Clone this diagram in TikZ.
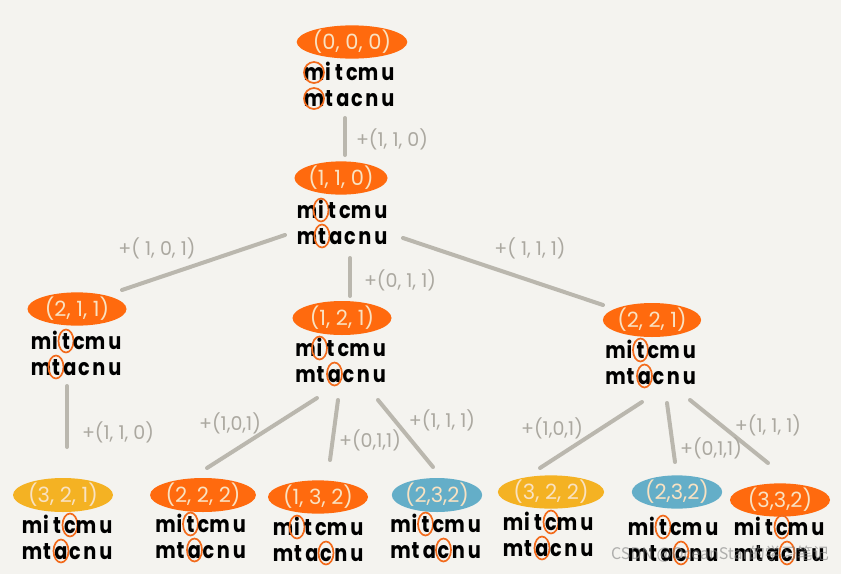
\documentclass[tikz,border=0pt]{standalone}
\usepackage{fontspec}
\setmainfont{Poppins}
\newfontfamily\hand[FakeStretch=0.84]{Poppins}
\newfontfamily\cjk{Noto Sans CJK SC}
\usetikzlibrary{shapes.geometric}
\definecolor{bg}{HTML}{F4F3EF}
\definecolor{ora}{HTML}{FF6A0E}
\definecolor{yel}{HTML}{F4B223}
\definecolor{blu}{HTML}{64AEC8}
\definecolor{cream}{HTML}{F9E2C2}
\definecolor{edgegray}{HTML}{BAB7AE}
\definecolor{lblgray}{HTML}{ABA8A0}
\definecolor{circ}{HTML}{F26A1B}
\tikzset{
 blob/.style={ellipse, inner sep=0pt, text=cream, font=\fontsize{21}{24}\selectfont},
 letter/.style={anchor=base, inner sep=0pt, font=\hand\bfseries\fontsize{23}{26}\selectfont, text=black},
 rowbox/.style={minimum width=92pt, minimum height=22pt, inner sep=0pt},
 ring/.style={draw=circ, line width=1.7pt},
 edge/.style={draw=edgegray, line width=4pt, line cap=round},
 elabel/.style={text=lblgray, font=\fontsize{19}{22}\selectfont, inner sep=0pt},
}
\newcommand{\wrow}[5]{%
 \node[rowbox] (#1) at ({#2},{#3}) {};
 \foreach \ch/\dx [count=\k from 0] in {#4} {
   \node[letter] (#1l\k) at ({#2+\dx},{#3+7}) {\ch};
   \ifnum\k=#5\relax
     \ifnum\k=0\relax
       \draw[ring] ({#2+\dx},{#3-0.5}) ellipse [x radius=10pt, y radius=10.5pt];
     \else
       \draw[ring] ({#2+\dx},{#3-1}) ellipse [x radius=7.5pt, y radius=11.5pt];
     \fi
   \fi
 }
}
\newcommand{\tnode}[9]{%
 \node[blob, #4] (#1) at ({#2},{#3}) {#5};
 \wrow{#1a}{#6}{#7}{m/-37,i/-23,t/-12,c/1,m/17,u/37}{#8}
 \wrow{#1b}{#6}{#7+26}{m/-37,t/-22,a/-8,c/6,n/21,u/37}{#9}
}
\begin{document}
\begin{tikzpicture}[x=1pt,y=-1pt]
\useasboundingbox (0,0) rectangle (841,574);
\fill[bg] (0,0) rectangle (841,574);

\tnode{n0}{352}{42}{fill=ora,minimum width=100pt,minimum height=31pt}{(0, 0, 0)}{351}{73}{0}{0}
\tnode{n1}{341}{178}{fill=ora,minimum width=93pt,minimum height=31pt}{(1, 1, 0)}{344}{211}{1}{1}
\tnode{n2}{77}{309}{fill=ora,minimum width=99pt,minimum height=32pt}{(2, 1, 1)}{78}{342}{2}{1}
\tnode{n3}{342}{318}{fill=ora,minimum width=99pt,minimum height=34pt}{(1, 2, 1)}{342.5}{349}{1}{2}
\tnode{n4}{652}{320}{fill=ora,minimum width=97pt,minimum height=34pt}{(2, 2, 1)}{652.5}{351}{2}{2}
\tnode{n5}{63}{495}{fill=yel,minimum width=100pt,minimum height=34pt}{(3, 2, 1)}{69}{526}{3}{2}
\tnode{n6}{203}{495}{fill=ora,minimum width=99pt,minimum height=34pt}{(2, 2, 2)}{202.5}{525}{2}{2}
\tnode{n7}{318}{497}{fill=ora,minimum width=100pt,minimum height=31pt}{(1, 3, 2)}{320}{528}{1}{3}
\tnode{n8}{437}{495}{fill=blu,minimum width=89pt,minimum height=34pt}{(2,3,2)}{437.5}{525}{2}{3}
\tnode{n9}{551}{492}{fill=yel,minimum width=97pt,minimum height=30pt}{(3, 2, 2)}{550}{523}{3}{2}
\tnode{n10}{677}{492}{fill=blu,minimum width=90pt,minimum height=31pt}{(2,3,2)}{675}{528}{2}{3}
\tnode{n11}{780}{500}{fill=ora,minimum width=100pt,minimum height=27pt}{(3,3,2)}{781}{528}{3}{3}

\draw[edge] ([shift={(-6,19)}]n0b.center) -- ([shift={(4,-23)}]n1.center);
\draw[edge] ([shift={(-59,-2)}]n1b.center) -- ([shift={(45,-19)}]n2.center);
\draw[edge] ([shift={(6,21)}]n1b.center) -- ([shift={(8,-22)}]n3.center);
\draw[edge] ([shift={(59,1)}]n1b.center) -- ([shift={(-49,-15)}]n4.center);
\draw[edge] ([shift={(-11,18)}]n2b.center) -- ([shift={(4,-48)}]n5.center);
\draw[edge] ([shift={(-25.5,23)}]n3b.center) -- ([shift={(4,-27)}]n6.center);
\draw[edge] ([shift={(-4.5,25)}]n3b.center) -- ([shift={(12,-37)}]n7.center);
\draw[edge] ([shift={(35.5,25)}]n3b.center) -- ([shift={(-4,-28)}]n8.center);
\draw[edge] ([shift={(-10.5,25)}]n4b.center) -- ([shift={(-11,-24)}]n9.center);
\draw[edge] ([shift={(14.5,26)}]n4b.center) -- ([shift={(-2,-30)}]n10.center);
\draw[edge] ([shift={(37.5,23)}]n4b.center) -- ([shift={(-12,-37)}]n11.center);

\node[elabel] (l01) at (392,139) {+(1, 1, 0)};
\node[elabel] (l12) at (157,248) {+( 1, 0, 1)};
\node[elabel] (l13) at (400,280) {+(0, 1, 1)};
\node[elabel] (l14) at (530,248) {+( 1, 1, 1)};
\node[elabel] (l25) at (118,432) {+(1, 1, 0)};
\node[elabel] (l36) at (230,423) {+(1,0,1)};
\node[elabel] (l37) at (370,440) {+(0,1,1)};
\node[elabel] (l38) at (442,420) {+(1, 1, 1)};
\node[elabel] (l49) at (552,428) {+(1,0,1)};
\node[elabel] (l410) at (711,448) {+(0,1,1)};
\node[elabel] (l411) at (768,425) {+(1, 1, 1)};

\node[font=\cjk\fontsize{16}{19}\selectfont, text=gray, opacity=0.6, inner sep=0pt] (wm) at (720,554) {CSDN @OceanStar的学习笔记};
\end{tikzpicture}
\end{document}
